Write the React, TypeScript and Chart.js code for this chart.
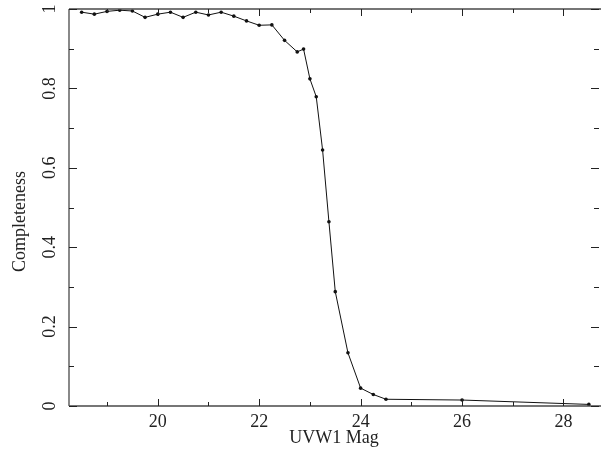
import React, { useEffect, useRef } from "react";
import { Chart, registerables } from "chart.js";

Chart.register(...registerables);

// UVW1 magnitude bins
const magnitudes = [
  18.5, 18.75, 19.0, 19.25, 19.5, 19.75, 20.0, 20.25, 20.5, 20.75, 21.0, 21.25,
  21.5, 21.75, 22.0, 22.25, 22.5, 22.75, 22.875, 23.0, 23.125, 23.25, 23.375,
  23.5, 23.75, 24.0, 24.25, 24.5, 26.0, 28.5,
];
// completeness fraction
const completeness = [
  0.992, 0.987, 0.994, 0.997, 0.995, 0.979, 0.987, 0.992, 0.979, 0.992, 0.985,
  0.992, 0.982, 0.97, 0.959, 0.96, 0.921, 0.892, 0.899, 0.824, 0.779, 0.645,
  0.464, 0.288, 0.134, 0.045, 0.029, 0.017, 0.015, 0.004,
];

const xMajorTicks = [20, 22, 24, 26, 28];
const xMinorTicks = [19, 21, 23, 25, 27];
const yMajorTicks = [0, 0.2, 0.4, 0.6, 0.8, 1];
const yMinorTicks = [0.1, 0.3, 0.5, 0.7, 0.9];
const yTickLabels = ["0", "0.2", "0.4", "0.6", "0.8", "1"];
const xTickLabels = ["20", "22", "24", "26", "28"];

const xTitle = "UVW1 Mag";
const yTitle = "Completeness";

const FONT = '"Liberation Serif", "Times New Roman", serif';
const FONT_SIZE = 18;
const AXIS_COLOR = "#4a4a4a";
const TEXT_COLOR = "#222";

const frameTicks = {
  id: "frameTicks",
  afterDatasetsDraw(chart: any) {
    const { ctx, chartArea } = chart;
    const { left, right, top, bottom } = chartArea;
    const xs = chart.scales.x;
    const ys = chart.scales.y;
    ctx.save();
    ctx.strokeStyle = AXIS_COLOR;
    ctx.lineWidth = 1.3;
    ctx.beginPath();
    ctx.moveTo(left, top);
    ctx.lineTo(left, bottom);
    ctx.moveTo(left, bottom);
    ctx.lineTo(right + 2, bottom);
    ctx.moveTo(left, top);
    ctx.lineTo(right + 2, top);
    ctx.stroke();

    ctx.lineWidth = 1;
    ctx.strokeStyle = "#222";
    ctx.beginPath();
    const xt = (vals: number[], len: number) => {
      vals.forEach((v) => {
        const px = Math.round(xs.getPixelForValue(v)) + 0.5;
        ctx.moveTo(px, bottom);
        ctx.lineTo(px, bottom - len);
        ctx.moveTo(px, top);
        ctx.lineTo(px, top + len);
      });
    };
    const yt = (vals: number[], len: number) => {
      vals.forEach((v) => {
        const py = Math.round(ys.getPixelForValue(v)) + 0.5;
        ctx.moveTo(left, py);
        ctx.lineTo(left + len, py);
        ctx.moveTo(right, py);
        ctx.lineTo(right - len, py);
      });
    };
    xt(xMajorTicks, 7);
    xt(xMinorTicks, 4);
    yt(yMajorTicks, 8);
    yt(yMinorTicks, 5);
    ctx.stroke();

    // y axis title
    ctx.fillStyle = TEXT_COLOR;
    ctx.font = `${FONT_SIZE}px ${FONT}`;
    ctx.textAlign = "center";
    ctx.textBaseline = "middle";
    ctx.translate(20, (top + bottom) / 2 + 14);
    ctx.rotate(-Math.PI / 2);
    ctx.fillText(yTitle, 0, 0);
    ctx.restore();
  },
};

export default function App() {
  const ref = useRef<HTMLCanvasElement | null>(null);

  useEffect(() => {
    if (!ref.current) return;
    const chart = new Chart(ref.current, {
      type: "line",
      data: {
        datasets: [
          {
            data: magnitudes.map((m, i) => ({ x: m, y: completeness[i] })),
            borderColor: "#111",
            borderWidth: 1,
            pointRadius: 1.8,
            pointBackgroundColor: "#111",
            pointBorderWidth: 0,
            tension: 0,
            fill: false,
          },
        ],
      },
      options: {
        responsive: false,
        animation: false,
        events: [],
        layout: { padding: { top: 9, right: 1, left: 0, bottom: 0 } },
        plugins: {
          legend: { display: false },
          tooltip: { enabled: false },
        },
        scales: {
          x: {
            type: "linear",
            min: 18.25,
            max: 28.7,
            grid: { display: false, drawTicks: false },
            border: { display: false },
            afterBuildTicks: (s: any) => {
              s.ticks = xMajorTicks.map((v) => ({ value: v }));
            },
            afterFit: (s: any) => {
              s.height = 49;
              s.paddingLeft = 0;
              s.paddingRight = 0;
            },
            ticks: {
              padding: 5,
              color: TEXT_COLOR,
              font: { family: FONT, size: FONT_SIZE },
              maxRotation: 0,
              autoSkip: false,
              callback: (v: any) => {
                const i = xMajorTicks.indexOf(Number(v));
                return i >= 0 ? xTickLabels[i] : "";
              },
            },
            title: {
              display: true,
              text: xTitle,
              color: TEXT_COLOR,
              font: { family: FONT, size: FONT_SIZE },
              padding: { top: 0, bottom: 6 },
            },
          },
          y: {
            type: "linear",
            min: 0,
            max: 1,
            grid: { display: false, drawTicks: false },
            border: { display: false },
            afterBuildTicks: (s: any) => {
              s.ticks = yMajorTicks.map((v) => ({ value: v }));
            },
            afterFit: (s: any) => {
              s.width = 69;
              s.paddingTop = 0;
              s.paddingBottom = 0;
            },
            ticks: {
              padding: 7,
              color: TEXT_COLOR,
              crossAlign: "center",
              minRotation: 90,
              maxRotation: 90,
              autoSkip: false,
              font: { family: FONT, size: FONT_SIZE },
              callback: (v: any) => {
                const i = yMajorTicks.findIndex((t) => Math.abs(t - Number(v)) < 1e-9);
                return i >= 0 ? yTickLabels[i] : "";
              },
            },
            title: { display: false },
          },
        },
      },
      plugins: [frameTicks],
    });
    return () => chart.destroy();
  }, []);

  return (
    <div style={{ position: "fixed", left: 0, top: 0, width: 603, height: 455, background: "#fff" }}>
      <canvas ref={ref} width={603} height={455} style={{ display: "block" }} />
    </div>
  );
}
